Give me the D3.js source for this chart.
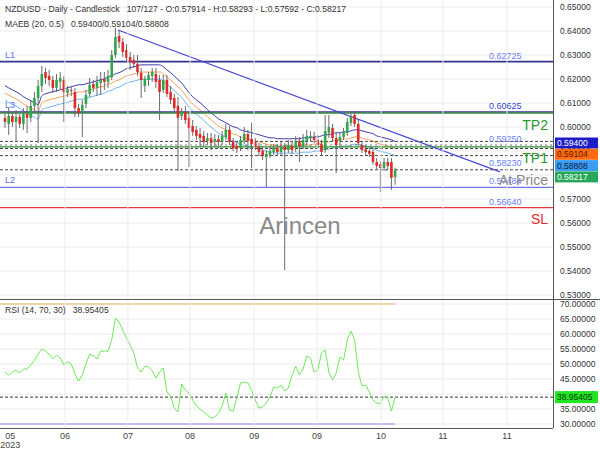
<!DOCTYPE html>
<html><head><meta charset="utf-8">
<script src="https://cdn.jsdelivr.net/npm/d3@7/dist/d3.min.js"></script>
<style>body{margin:0;background:#fff;} svg{display:block;font-family:"Liberation Sans",Arial,sans-serif;} .pre{white-space:pre;}</style>
</head><body><svg id="c" width="600" height="450"></svg>
<script>
// ---------- DATA ----------
const opens=[.6038,.6013,.6046,.6021,.6042,.6013,.6054,.6038,.6088,.6121,
.6171,.6229,.6213,.6196,.6163,.6188,.6196,.6142,.6154,.6146,
.6079,.6063,.6096,.6138,.6179,.6163,.6183,.6200,.6188,.6208,
.6300,.6379,.6354,.6321,.6292,.6279,.6263,.6225,.6171,.6196,
.6213,.6221,.6196,.6154,.6196,.6146,.6121,.6088,.6046,.6063,
.6038,.6004,.5988,.5971,.5963,.5942,.5954,.5938,.5950,.5938,
.5958,.5988,.5938,.5921,.5913,.5942,.5971,.5950,.5938,.5917,
.5900,.5875,.5883,.5896,.5913,.5896,.5917,.5904,.5921,.5913,
.5942,.5921,.5942,.5954,.5958,.5946,.5929,.5904,.5975,.5996,
.5954,.5942,.5958,.5975,.6017,.6050,.6013,.5925,.5908,.5900,
.5896,.5854,.5846,.5829,.5854,.5854,.57914];
const highs=[.6054,.6079,.6063,.6071,.6054,.6079,.6088,.6113,.6146,.6196,
.6254,.6246,.6238,.6213,.6221,.6229,.6213,.6171,.6171,.6163,
.6096,.6113,.6154,.6204,.6196,.6213,.6229,.6229,.6238,.6321,
.6413,.6404,.6371,.6346,.6313,.6300,.6300,.6246,.6213,.6229,
.6246,.6246,.6217,.6217,.6217,.6171,.6138,.6125,.6079,.6088,
.6063,.6029,.6004,.5996,.5983,.5975,.5975,.5971,.5967,.5983,
.6013,.6004,.5954,.5942,.5963,.6000,.5988,.6017,.5954,.5933,
.5921,.5904,.5921,.5929,.5929,.5938,.5933,.5946,.5938,.5963,
.5958,.5971,.5988,.5983,.5979,.5967,.5946,.6050,.6050,.6013,
.5975,.5975,.5996,.6038,.6058,.6063,.6029,.5942,.5925,.5913,
.5908,.5871,.5858,.5871,.5871,.5871,.58293];
const lows=[.5996,.5967,.6000,.5938,.5996,.5988,.5975,.6021,.6063,.5933,
.6146,.6179,.6171,.6142,.6146,.6154,.6021,.6125,.6129,.6042,
.6042,.5958,.6079,.6125,.6146,.6129,.6133,.6154,.6163,.6196,
.6288,.6329,.6292,.6271,.6238,.6246,.6213,.6121,.6146,.6171,
.6188,.6163,.6029,.6142,.6125,.6096,.6063,.5817,.6029,.6013,
.5833,.5963,.5946,.5921,.5917,.5925,.5904,.5921,.5913,.5925,
.5946,.5925,.5900,.5892,.5900,.5929,.5904,.5829,.5904,.5879,
.5863,.5750,.5871,.5883,.5879,.5883,.5404,.5892,.5888,.5896,
.5854,.5908,.5925,.5938,.5933,.5913,.5883,.5892,.5954,.5938,
.5808,.5921,.5946,.5963,.6004,.6000,.5921,.5892,.5883,.5875,
.5842,.5825,.5729,.5817,.5821,.5738,.57592];
const closes=[.6021,.6046,.6021,.6042,.6013,.6054,.6038,.6088,.6121,.6171,
.6221,.6204,.6196,.6163,.6196,.6204,.6146,.6158,.6150,.6079,
.6058,.6092,.6133,.6175,.6163,.6188,.6196,.6188,.6213,.6300,
.6375,.6354,.6313,.6288,.6271,.6263,.6229,.6196,.6200,.6217,
.6229,.6188,.6146,.6196,.6138,.6113,.6079,.6038,.6063,.6029,
.5996,.5979,.5963,.5954,.5938,.5954,.5933,.5950,.5938,.5963,
.5988,.5938,.5913,.5908,.5946,.5971,.5942,.5929,.5917,.5896,
.5879,.5888,.5900,.5913,.5896,.5917,.5904,.5925,.5904,.5942,
.5921,.5946,.5963,.5963,.5946,.5925,.5896,.5983,.6000,.5954,
.5925,.5958,.5979,.6021,.6042,.6013,.5933,.5904,.5896,.5888,
.5854,.5838,.5829,.5854,.5838,.5788,.58217];
const maUpper=[.6172,.6163,.6155,.6147,.6138,.6126,.6118,.6109,.6101,.6093,
.6130,.6138,.6143,.6147,.6151,.6155,.6159,.6163,.6168,.6172,
.6176,.6176,.6180,.6184,.6188,.6193,.6197,.6201,.6209,.6213,
.6222,.6226,.6234,.6243,.6247,.6251,.6255,.6259,.6259,.6259,
.6259,.6259,.6259,.6251,.6238,.6226,.6213,.6197,.6184,.6163,
.6143,.6126,.6113,.6101,.6088,.6072,.6059,.6047,.6034,.6026,
.6018,.6009,.6001,.5997,.5988,.5984,.5980,.5976,.5972,.5968,
.5963,.5959,.5955,.5955,.5951,.5951,.5951,.5951,.5951,.5951,
.5951,.5955,.5955,.5955,.5959,.5959,.5963,.5968,.5968,.5972,
.5976,.5976,.5980,.5980,.5984,.5988,.5988,.5984,.5980,.5976,
.5972,.5963,.5959,.5955,.5951,.5947,.59400];
const maMid=[.6142,.6133,.6125,.6117,.6108,.6096,.6088,.6079,.6071,.6063,
.6100,.6108,.6113,.6117,.6121,.6125,.6129,.6133,.6138,.6142,
.6146,.6146,.6150,.6154,.6158,.6163,.6167,.6171,.6179,.6183,
.6192,.6196,.6204,.6213,.6217,.6221,.6225,.6229,.6229,.6229,
.6229,.6229,.6229,.6221,.6208,.6196,.6183,.6167,.6154,.6133,
.6113,.6096,.6083,.6071,.6058,.6042,.6029,.6017,.6004,.5996,
.5988,.5979,.5971,.5967,.5958,.5954,.5950,.5946,.5942,.5938,
.5933,.5929,.5925,.5925,.5921,.5921,.5921,.5921,.5921,.5921,
.5921,.5925,.5925,.5925,.5929,.5929,.5933,.5938,.5938,.5942,
.5946,.5946,.5950,.5950,.5954,.5958,.5958,.5954,.5950,.5946,
.5942,.5933,.5929,.5925,.5921,.5917,.59104];
const maLower=[.6112,.6103,.6095,.6087,.6078,.6066,.6058,.6049,.6041,.6033,
.6070,.6078,.6083,.6087,.6091,.6095,.6099,.6103,.6108,.6112,
.6116,.6116,.6120,.6124,.6128,.6133,.6137,.6141,.6149,.6153,
.6162,.6166,.6174,.6183,.6187,.6191,.6195,.6199,.6199,.6199,
.6199,.6199,.6199,.6191,.6178,.6166,.6153,.6137,.6124,.6103,
.6083,.6066,.6053,.6041,.6028,.6012,.5999,.5987,.5974,.5966,
.5958,.5949,.5941,.5937,.5928,.5924,.5920,.5916,.5912,.5908,
.5903,.5899,.5895,.5895,.5891,.5891,.5891,.5891,.5891,.5891,
.5891,.5895,.5895,.5895,.5899,.5899,.5903,.5908,.5908,.5912,
.5916,.5916,.5920,.5920,.5924,.5928,.5928,.5924,.5920,.5916,
.5912,.5903,.5899,.5895,.5891,.5887,.58808];
const rsiValues=[47.3,46.3,47.3,48.0,47.0,48.3,48.3,49.7,51.3,53.3,
55.0,54.3,53.3,51.7,53.0,52.0,49.7,50.7,50.0,46.7,
44.3,46.3,50.0,53.3,52.7,51.7,54.3,54.3,54.3,58.0,
65.3,64.0,61.3,58.7,56.3,53.7,48.7,47.3,49.3,49.0,
47.7,45.3,47.3,48.7,40.7,39.3,35.3,34.0,43.3,41.3,
40.3,38.0,36.0,35.0,34.0,33.0,32.0,32.3,33.7,36.0,
40.3,34.7,34.3,38.7,43.7,44.0,43.7,41.3,38.0,35.3,
35.7,37.0,39.0,42.3,42.0,43.0,41.0,42.0,46.3,49.3,
46.3,48.3,52.7,52.0,47.3,48.0,53.7,54.7,47.3,44.7,
47.0,52.3,51.3,58.0,61.0,58.0,47.3,42.7,43.0,40.7,
38.0,37.0,36.7,39.3,38.7,34.3,38.95405];
const xTickIdx=[1.4,16.3,33.4,50.3,67.7,84.8,102.2,119.0,136.4];
const xTickLabels=["05","06","07","08","09","09","10","11","11"];
const priceTicks=[0.53,0.54,0.55,0.56,0.57,0.58,0.59,0.60,0.61,0.62,0.63,0.64,0.65];
const rsiTicks=[25,30,35,40,45,50,55,60,65,70];
const levelNames=["L1","L3","L2"];
const levelValues=[0.62725,0.60625,0.57484];
const priceLabelValues=[0.62725,0.60625,0.59250,0.58230,0.57484,0.56640];
const targetNames=["TP2","TP1","At Price","SL"];
const targetValues=[0.60580,0.59170,0.58230,0.56640];
const currentValues=[0.59400,0.59104,0.58808,0.58217];
const trendIdx=[30.7,134.5];
const trendVals=[0.6404,0.5813];
const rsiBounds=[70,30];
const lastIdx=106, barCount=107, totalSlots=127;

// ---------- SCALES ----------
const svg=d3.select("#c");
const W=600, plotR=553;
const x=d3.scaleLinear().domain([0,106]).range([5,395.1]);
const y=d3.scaleLinear().domain([0.53,0.65]).range([295,7]);
const yr=d3.scaleLinear().domain([30,70]).range([424,304]);
const fmt=d3.format(".5f");

const defs=svg.append("defs");
defs.append("clipPath").attr("id","mainClip").append("rect").attr("x",0).attr("y",0).attr("width",plotR).attr("height",300);
defs.append("clipPath").attr("id","rsiClip").append("rect").attr("x",0).attr("y",300).attr("width",plotR).attr("height",128);
defs.append("clipPath").attr("id","axClip").append("rect").attr("x",0).attr("y",0).attr("width",600).attr("height",429);

// grid
const gMain=svg.append("g").attr("clip-path","url(#mainClip)");
gMain.selectAll("line.hg").data(priceTicks).join("line")
 .attr("x1",0).attr("x2",plotR).attr("y1",d=>y(d)).attr("y2",d=>y(d)).attr("stroke","#ebebeb");
const gRsi=svg.append("g").attr("clip-path","url(#rsiClip)");
gRsi.selectAll("line.hg").data(rsiTicks).join("line")
 .attr("x1",0).attr("x2",plotR).attr("y1",d=>yr(d)).attr("y2",d=>yr(d)).attr("stroke","#ebebeb");
svg.selectAll("line.vg").data(xTickIdx.slice(1)).join("line").attr("class","vg")
 .attr("x1",d=>x(d)).attr("x2",d=>x(d)).attr("y1",0).attr("y2",428).attr("stroke","#ebebeb");

// watermark
svg.append("text").attr("x",300).attr("y",234).attr("text-anchor","middle").attr("font-size",24)
 .attr("fill","#8a8a8a").text("Arincen");

// MA bands
const bandLine=arr=>d3.line().x((d,i)=>x(i)).y(d=>y(d)).curve(d3.curveMonotoneX)(arr);
gMain.append("path").attr("d",bandLine(maLower)).attr("fill","none").attr("stroke","#6fb4f0").attr("stroke-width",1);
gMain.append("path").attr("d",bandLine(maMid)).attr("fill","none").attr("stroke","#f5a15a").attr("stroke-width",1);
gMain.append("path").attr("d",bandLine(maUpper)).attr("fill","none").attr("stroke","#3b3bb0").attr("stroke-width",1);

// level lines
const lvlColor=["#35358f","#35358f","#7474ee"];
levelValues.forEach((v,k)=>{
  gMain.append("line").attr("x1",0).attr("x2",plotR).attr("y1",y(v)).attr("y2",y(v))
   .attr("stroke",lvlColor[k]).attr("stroke-width",k<2?1.6:1.2);
  svg.append("text").attr("x",5).attr("y",y(v)-4).attr("font-size",9).attr("fill","#5a70e8").text(levelNames[k]);
});
// dashed current-value lines
currentValues.forEach(v=>{
  gMain.append("line").attr("x1",0).attr("x2",plotR).attr("y1",y(v)).attr("y2",y(v))
   .attr("stroke","#444").attr("stroke-dasharray","3,2").attr("stroke-width",1);
});
gMain.append("line").attr("x1",0).attr("x2",plotR).attr("y1",y(priceLabelValues[2])).attr("y2",y(priceLabelValues[2]))
 .attr("stroke","#777").attr("stroke-dasharray","2,3");
// target lines
const tgtColor=["#2f8f2f","#2f8f2f",null,"#e23a3a"];
targetValues.forEach((v,k)=>{
  if(!tgtColor[k]) return;
  gMain.append("line").attr("x1",0).attr("x2",plotR).attr("y1",y(v)).attr("y2",y(v)).attr("stroke",tgtColor[k]).attr("stroke-width",1.2);
});
// trendline
gMain.append("line").attr("x1",x(trendIdx[0])).attr("x2",x(trendIdx[1])).attr("y1",y(trendVals[0])).attr("y2",y(trendVals[1]))
 .attr("stroke","#4848d8").attr("stroke-width",1.2);

// candles
const gC=gMain.append("g");
d3.range(closes.length).forEach(i=>{
  const o=opens[i],c=closes[i],h=highs[i],l=lows[i];
  const up=c>=o;
  gC.append("line").attr("x1",x(i)).attr("x2",x(i)).attr("y1",y(h)).attr("y2",y(l)).attr("stroke","#6a6a6a").attr("stroke-width",1);
  const top=y(Math.max(o,c)), bot=y(Math.min(o,c));
  gC.append("rect").attr("x",x(i)-1.3).attr("width",2.6).attr("y",top).attr("height",Math.max(1,bot-top))
   .attr("fill",up?"#2fa84a":"#e02a2a");
});

// price labels on lines
priceLabelValues.forEach((v,k)=>{
  svg.append("text").attr("x",489).attr("y",y(v)-3).attr("font-size",9)
   .attr("fill",k===1?"#3448c8":"#6a80ee").text(fmt(v));
});
// target texts
const tgtTextColor=["#2a9a2a","#2a9a2a","#8a8a8a","#e02a2a"];
targetValues.forEach((v,k)=>{
  svg.append("text").attr("x",548).attr("y",y(v)+(k===0?17:16)).attr("text-anchor","end").attr("font-size",14)
   .attr("fill",tgtTextColor[k]).text(targetNames[k]);
});

// RSI
gRsi.append("line").attr("x1",0).attr("x2",x(lastIdx)).attr("y1",yr(rsiBounds[0])).attr("y2",yr(rsiBounds[0])).attr("stroke","#ecc890").attr("stroke-width",1.5);
gRsi.append("line").attr("x1",0).attr("x2",x(lastIdx)).attr("y1",yr(rsiBounds[1])).attr("y2",yr(rsiBounds[1])).attr("stroke","#b9a3ea").attr("stroke-width",1.5);
gRsi.append("line").attr("x1",0).attr("x2",plotR).attr("y1",yr(rsiValues[lastIdx])).attr("y2",yr(rsiValues[lastIdx]))
 .attr("stroke","#333").attr("stroke-dasharray","3,2");
gRsi.append("path").attr("d",d3.line().x((d,i)=>x(i)).y(d=>yr(d))(rsiValues)).attr("fill","none").attr("stroke","#6ee85a").attr("stroke-width",1);

// frames
svg.append("line").attr("x1",plotR+0.5).attr("x2",plotR+0.5).attr("y1",0).attr("y2",428).attr("stroke","#555");
svg.append("line").attr("x1",0).attr("x2",W).attr("y1",299.5).attr("y2",299.5).attr("stroke","#555");
svg.append("line").attr("x1",0).attr("x2",plotR).attr("y1",428.5).attr("y2",428.5).attr("stroke","#555");

// right axes
const gAx=svg.append("g").attr("clip-path","url(#axClip)");
gAx.selectAll("text.pt").data(priceTicks).join("text").attr("x",560).attr("y",d=>y(d)+3).attr("font-size",8.5).attr("fill","#333").text(d=>fmt(d));
gAx.selectAll("text.rt").data(rsiTicks).join("text").attr("x",560).attr("y",d=>yr(d)+3).attr("font-size",8.5).attr("fill","#333").text(d=>fmt(d));

// current value boxes
const boxBg=["#1c1cc8","#ff6b10","#3a9cf5","#26a85a"];
const boxFg=["#ffffff","#5a1a00","#0a1a40","#ffffff"];
currentValues.forEach((v,k)=>{
  const cy=143+k*11.3;
  svg.append("rect").attr("x",555).attr("y",cy-5.5).attr("width",43).attr("height",11).attr("fill",boxBg[k]);
  svg.append("text").attr("x",557).attr("y",cy+3).attr("font-size",8.5).attr("fill",boxFg[k]).text(fmt(v));
});
const ry=yr(rsiValues[lastIdx]);
svg.append("rect").attr("x",555).attr("y",ry-6).attr("width",43).attr("height",12).attr("fill","#22e622");
svg.append("text").attr("x",557).attr("y",ry+3).attr("font-size",8.5).attr("fill","#0b3a0b").text(fmt(rsiValues[lastIdx]));

// x axis
xTickIdx.forEach((t,k)=>{
  svg.append("text").attr("x",x(t)).attr("y",439).attr("text-anchor","middle").attr("font-size",9).attr("fill","#444").text(xTickLabels[k]);
});
svg.append("text").attr("x",x(xTickIdx[0])).attr("y",448).attr("text-anchor","middle").attr("font-size",9).attr("fill","#444").text("2023");

// headers
svg.append("text").attr("class","pre").attr("x",5).attr("y",12).attr("font-size",8.6).attr("fill","#333")
 .text(`NZDUSD - Daily - Candlestick   ${barCount}/${totalSlots} - O:${fmt(opens[lastIdx])} - H:${fmt(highs[lastIdx])} - L:${fmt(lows[lastIdx])} - C:${fmt(closes[lastIdx])}`);
svg.append("text").attr("class","pre").attr("x",5).attr("y",27).attr("font-size",8.6).attr("fill","#333")
 .text(`MAEB (20, 0.5)   ${fmt(maUpper[lastIdx])}/${fmt(maMid[lastIdx])}/${fmt(maLower[lastIdx])}`);
svg.append("text").attr("class","pre").attr("x",5).attr("y",313).attr("font-size",8.6).attr("fill","#333")
 .text(`RSI (14, 70, 30)   ${fmt(rsiValues[lastIdx])}`);
</script></body></html>
